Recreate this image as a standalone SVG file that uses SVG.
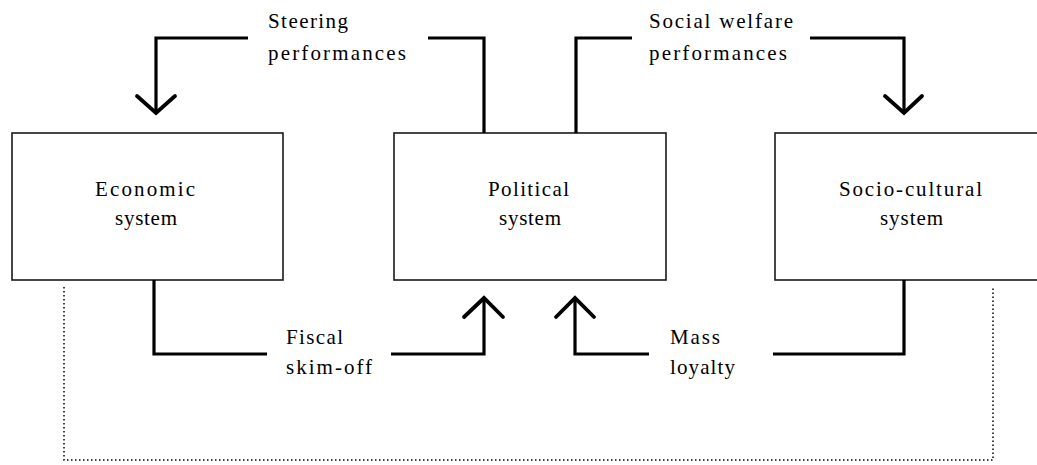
<svg xmlns="http://www.w3.org/2000/svg" width="1037" height="465" viewBox="0 0 1037 465">
<style>
.box{fill:#fff;stroke:#1a1a1a;stroke-width:1.6}
.con{fill:none;stroke:#000;stroke-width:3.2;stroke-linejoin:miter;stroke-linecap:butt}
.head{fill:none;stroke:#000;stroke-width:3.8;stroke-linecap:round;stroke-linejoin:miter}
.dot{fill:none;stroke:#000;stroke-width:1.5;stroke-dasharray:1.5 2.5}
text{font-family:"Liberation Serif","Times New Roman",serif;font-size:21px;fill:#000}
</style>
<rect width="1037" height="465" fill="#fff"/>
<g id="economic">
<rect class="box" x="12" y="133" width="271" height="147"/>
<text x="95" y="196" textLength="100" lengthAdjust="spacing">Economic</text>
<text x="115" y="225" textLength="62" lengthAdjust="spacing">system</text>
</g>
<g id="political">
<rect class="box" x="394" y="133" width="272" height="147"/>
<text x="488" y="196" textLength="81" lengthAdjust="spacing">Political</text>
<text x="499" y="225" textLength="62" lengthAdjust="spacing">system</text>
</g>
<g id="sociocultural">
<rect class="box" x="775" y="133" width="275" height="147"/>
<text x="839" y="196" textLength="143" lengthAdjust="spacing">Socio-cultural</text>
<text x="880" y="225" textLength="63" lengthAdjust="spacing">system</text>
</g>
<g id="connectors">
<path class="con" d="M484 133 V38 H428"/>
<path class="con" d="M248 38 H156 V112"/>
<path class="head" d="M137 96 L156 113 L175 96"/>
<path class="con" d="M576 133 V38 H632"/>
<path class="con" d="M810 38 H904 V112"/>
<path class="head" d="M885 96 L904 113 L922 96"/>
<path class="con" d="M154 280 V354 H267"/>
<path class="con" d="M391 354 H484 V299"/>
<path class="head" d="M464 317 L484 298 L503 317"/>
<path class="con" d="M904 280 V354 H773"/>
<path class="con" d="M649 354 H575 V299"/>
<path class="head" d="M556 317 L575 298 L594 317"/>
<path class="dot" d="M64 287 V460 H993 V287"/>
</g>
<g id="labels">
<text x="268" y="28" textLength="80" lengthAdjust="spacing">Steering</text>
<text x="268" y="60" textLength="138" lengthAdjust="spacing">performances</text>
<text x="649" y="28" textLength="144" lengthAdjust="spacing">Social welfare</text>
<text x="649" y="60" textLength="138" lengthAdjust="spacing">performances</text>
<text x="286" y="344" textLength="57" lengthAdjust="spacing">Fiscal</text>
<text x="286" y="374" textLength="86" lengthAdjust="spacing">skim-off</text>
<text x="670" y="344" textLength="50" lengthAdjust="spacing">Mass</text>
<text x="670" y="374" textLength="65" lengthAdjust="spacing">loyalty</text>
</g>
</svg>
